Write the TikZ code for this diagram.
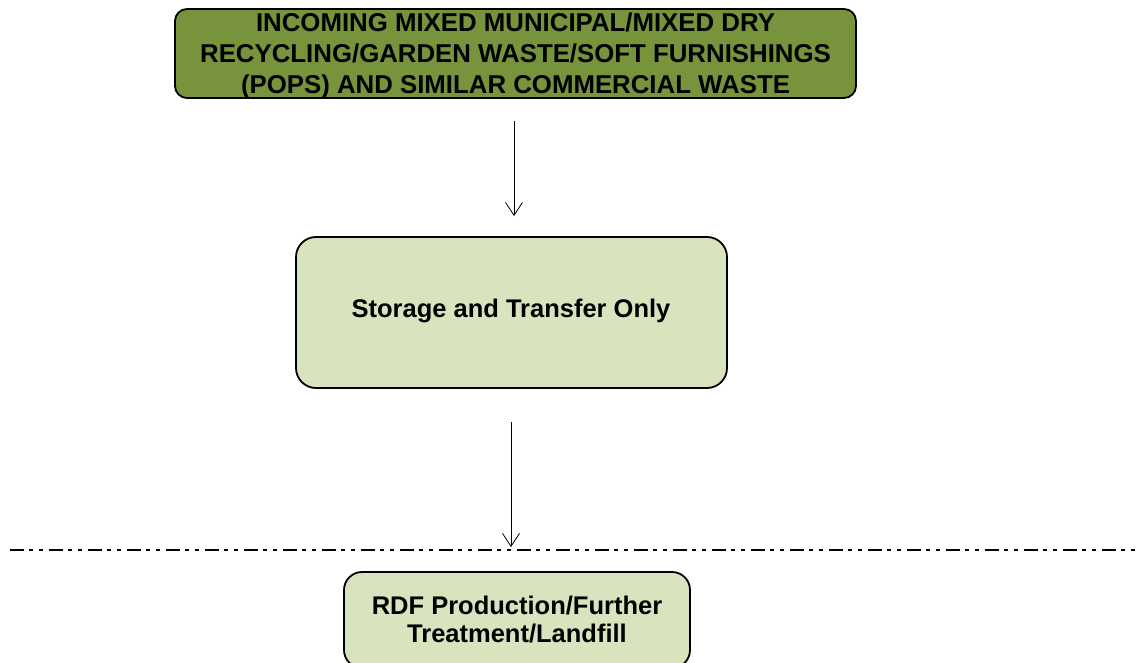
\documentclass[tikz,border=0pt]{standalone}
\usepackage{fontspec}
\usetikzlibrary{arrows.meta}
\newfontfamily\boxfont{Liberation Sans}
\definecolor{olive}{HTML}{77933C}
\definecolor{palegreen}{HTML}{D7E4BD}
\tikzset{
  topbox/.style={draw=black, line width=1.8pt, fill=olive, rounded corners=12pt,
    align=center, inner sep=0pt, font=\boxfont\bfseries\fontsize{25.8}{31}\selectfont},
  stagebox/.style={draw=black, line width=1.8pt, fill=palegreen, rounded corners=20pt,
    align=center, inner sep=0pt, font=\boxfont\bfseries\fontsize{25.5}{28}\selectfont},
  arr/.style={draw=black, line width=0.8pt, -{Straight Barb[length=13pt,width=17pt,line width=0.8pt]}},
  divider/.style={draw=black, line width=1.5pt,
    dash pattern=on 14pt off 5pt on 4pt off 6pt on 4pt off 6pt}
}
\begin{document}
\begin{tikzpicture}[x=1pt,y=-1pt]
\useasboundingbox (0,0) rectangle (1139,663);
\clip (0,0) rectangle (1139,663);
\node[topbox, minimum width=681pt, minimum height=89pt] (top) at (515.5,53.5) {};
\node[font=\boxfont\bfseries\fontsize{25.8}{31}\selectfont, align=center, inner sep=0pt] (toptext) at (515.5,56)
  {INCOMING MIXED MUNICIPAL/MIXED DRY\\RECYCLING/GARDEN WASTE/SOFT FURNISHINGS\\(POPS) AND SIMILAR COMMERCIAL WASTE};
\node[stagebox, minimum width=431pt, minimum height=151pt] (mid) at (511.5,312.5) {};
\node[font=\boxfont\bfseries\fontsize{25.5}{28}\selectfont, inner sep=0pt] (midtext) at (511,310.5)
  {Storage and Transfer Only};
\node[stagebox, rounded corners=18pt, minimum width=346pt, minimum height=96pt] (bot) at (517,620)
  {RDF Production/Further\\Treatment/Landfill};
\coordinate (dl) at (10,550);
\coordinate (dr) at (1139,550);
\draw[divider] (dl) -- (dr);
\draw[arr, shorten <=22pt, shorten >=20pt] ([xshift=-1.5pt]top.south) -- ([xshift=2.5pt]mid.north);
\draw[arr, shorten <=33pt, shorten >=24pt] ([xshift=-0.5pt]mid.south) -- ([xshift=-6pt]bot.north);
\end{tikzpicture}
\end{document}
